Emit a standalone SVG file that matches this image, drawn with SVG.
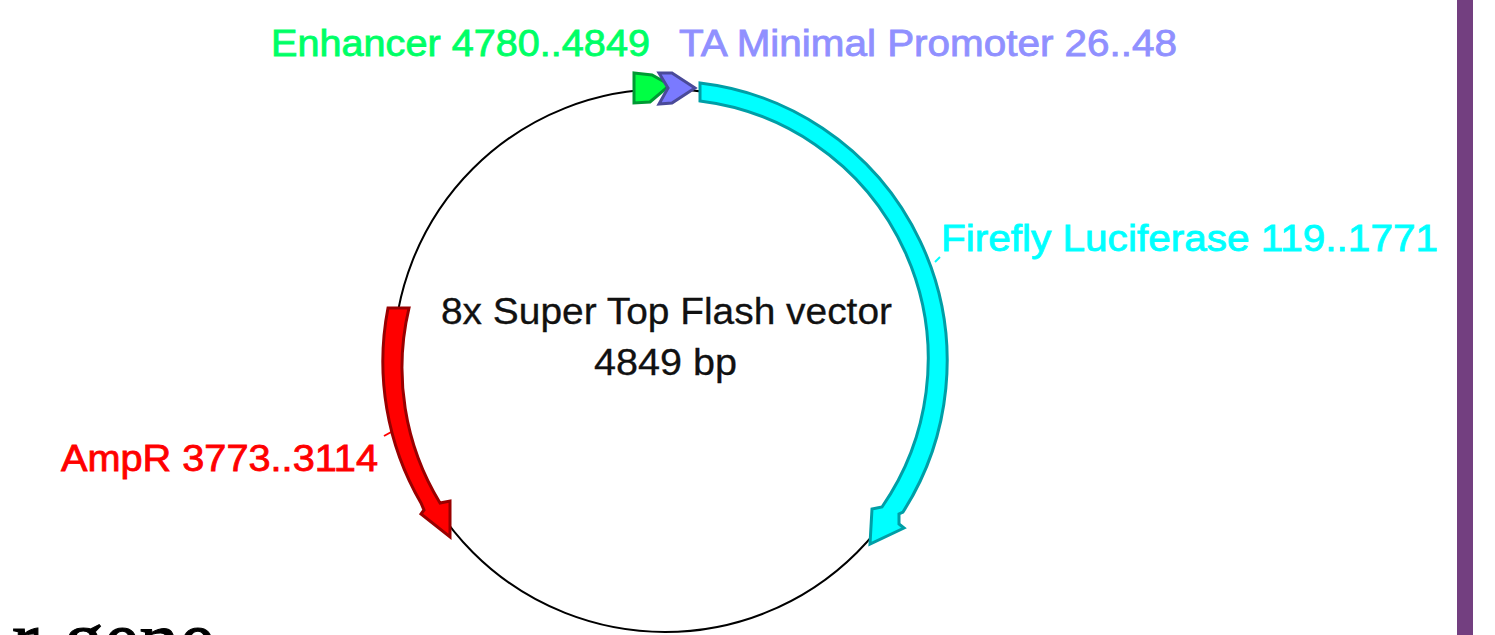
<svg xmlns="http://www.w3.org/2000/svg" width="1495" height="635" viewBox="0 0 1495 635">
<style>
text{font-family:"Liberation Sans",Arial,sans-serif;font-size:36px}
.lbl{stroke-width:.8px}
.feat{stroke-width:3px;stroke-linejoin:miter}
</style>
<rect width="1495" height="635" fill="#fff"/>
<rect x="1457" y="0" width="16" height="635" fill="#733f80"/>
<g id="connectors">
<circle cx="665" cy="360.5" r="271.5" fill="none" stroke="#000" stroke-width="2"/>
<path d="M935 262L940 257" stroke="#00ffff" stroke-width="2" fill="none"/>
<path d="M384 436L393 431" stroke="#ff0000" stroke-width="2" fill="none"/>
</g>
<g id="luciferase">
<path class="feat" d="M700 83A280 280 0 0 1 903 512L899 514L899 524L904 528L870 544L872 509L882 507A260 260 0 0 0 700 101Z" fill="#00ffff" stroke="#009ea6"/>
<text class="lbl" x="941" y="251" textLength="497" lengthAdjust="spacingAndGlyphs" fill="#00ffff" stroke="#00ffff">Firefly Luciferase 119..1771</text>
</g>
<g id="ampr">
<path class="feat" d="M388 308A281 281 0 0 0 421 503L424 510L421 514L450 537L450 501L440 503A259 259 0 0 1 409 308Z" fill="#ff0000" stroke="#990000"/>
<text class="lbl" x="61" y="471" textLength="317" lengthAdjust="spacingAndGlyphs" fill="#ff0000" stroke="#ff0000">AmpR 3773..3114</text>
</g>
<g id="enhancer">
<path class="feat" d="M634 73L652 75L670 85L650 102L634 103Z" fill="#00ff44" stroke="#009933"/>
<text class="lbl" x="271" y="56" textLength="379" lengthAdjust="spacingAndGlyphs" fill="#00ff66" stroke="#00ff66">Enhancer 4780..4849</text>
</g>
<g id="promoter">
<path class="feat" d="M659 73L672 73L695 88L672 103L659 104L668 88Z" fill="#7a7aff" stroke="#4a4a99"/>
<text class="lbl" x="679" y="56" textLength="498" lengthAdjust="spacingAndGlyphs" fill="#9090ff" stroke="#9090ff">TA Minimal Promoter 26..48</text>
</g>
<g id="title" stroke="#111" stroke-width=".3">
<text x="441" y="324" textLength="451" lengthAdjust="spacingAndGlyphs" fill="#111">8x Super Top Flash vector</text>
<text x="594" y="375" textLength="143" lengthAdjust="spacingAndGlyphs" fill="#111">4849 bp</text>
</g>
<text x="12" y="666" style="font-family:'Liberation Serif',serif;font-size:80px;word-spacing:5px" fill="#000" stroke="#000" stroke-width="1">r gene</text>
</svg>
